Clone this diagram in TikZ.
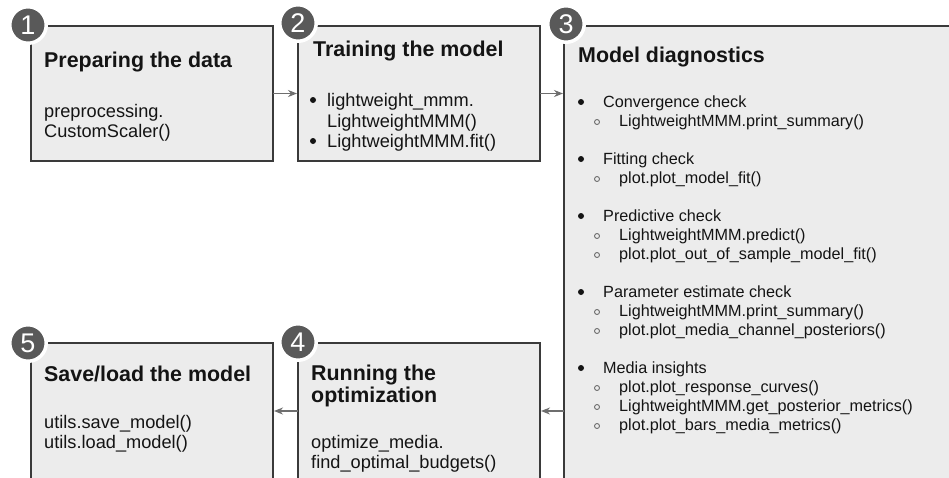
\documentclass[tikz,border=0pt]{standalone}
\usepackage{fontspec}
\setmainfont{Liberation Sans}
\usetikzlibrary{arrows.meta}
\definecolor{boxfill}{HTML}{ECECEC}
\definecolor{boxline}{HTML}{3A3A3A}
\definecolor{badgefill}{HTML}{595959}
\definecolor{arrowc}{HTML}{6E6E6E}
\definecolor{txt}{HTML}{141414}
\begin{document}
\begin{tikzpicture}[x=1pt,y=-1pt,
  box/.style={draw=boxline, fill=boxfill, line width=1.8pt, anchor=north west, inner sep=0, outer sep=0},
  badge/.style={circle, fill=badgefill, draw=white, line width=3.5pt, minimum size=36.5pt, inner sep=0, text=white, font=\fontsize{27}{27}\selectfont},
  title/.style={anchor=base west, inner sep=0, text=txt, font=\fontsize{21.4}{24}\selectfont\bfseries},
  body/.style={anchor=base west, inner sep=0, text=txt, font=\fontsize{18.2}{20}\selectfont},
  item/.style={anchor=base west, inner sep=0, text=txt, font=\fontsize{16.2}{19}\selectfont},
  flow/.style={draw=arrowc, line width=1.4pt, shorten >=1pt, -{Stealth[length=9pt,width=7pt]}},
  dot/.style={circle, fill=txt, inner sep=0, minimum size=6pt},
  ring/.style={circle, draw=arrowc, line width=0.9pt, inner sep=0, minimum size=5pt},
]
\useasboundingbox (0,0) rectangle (949,477);
\clip (0,0) rectangle (949,477);
\fill[white] (0,0) rectangle (949,477);

% boxes
\node[box, minimum width=242pt, minimum height=135pt] (b1) at (31,26) {};
\node[box, minimum width=242pt, minimum height=135pt] (b2) at (298,26) {};
\node[box, minimum width=420pt, minimum height=470pt] (b3) at (564,26) {};
\node[box, minimum width=242pt, minimum height=136pt] (b4) at (298,343) {};
\node[box, minimum width=242pt, minimum height=136pt] (b5) at (31,343) {};

% badges
\node[badge] (c1) at (28,25) {1};
\node[badge] (c2) at (298,23) {2};
\node[badge] (c3) at (566,24) {3};
\node[badge] (c4) at (298,342) {4};
\node[badge] (c5) at (28,343) {5};

% connectors
\draw[flow] (b1.east) -- (b2.west);
\draw[flow] (b2.east) -- (b2.east -| b3.west);
\draw[flow] (b3.west |- b4.east) -- (b4.east);
\draw[flow] (b4.west) -- (b5.east);

% box 1
\node[title] (t1) at (44,67) {Preparing the data};
\node[body] (p1a) at (44,117) {preprocessing.};
\node[body] (p1b) at (44,137) {CustomScaler()};

% box 2
\node[title] (t2) at (313,56) {Training the model};
\node[dot] (d2a) at (313,100) {};
\node[body] (p2a) at (327,106) {lightweight\_mmm.};
\node[body] (p2b) at (327,127) {LightweightMMM()};
\node[dot] (d2b) at (313,141) {};
\node[body] (p2c) at (327,147) {LightweightMMM.fit()};

% box 3
\node[title] (t3) at (578,62) {Model diagnostics};
\node[dot] (d3a) at (581,102) {};
\node[item] (h3a) at (603,107.5) {Convergence check};
\node[ring] (r3a) at (597,122) {};
\node[item] (s3a) at (619,126.5) {LightweightMMM.print\_summary()};
\node[dot] (d3b) at (581,159) {};
\node[item] (h3b) at (603,164.5) {Fitting check};
\node[ring] (r3b) at (597,179) {};
\node[item] (s3b) at (619,183.5) {plot.plot\_model\_fit()};
\node[dot] (d3c) at (581,216) {};
\node[item] (h3c) at (603,221.5) {Predictive check};
\node[ring] (r3c) at (597,236) {};
\node[item] (s3c) at (619,240.5) {LightweightMMM.predict()};
\node[ring] (r3d) at (597,255) {};
\node[item] (s3d) at (619,259.5) {plot.plot\_out\_of\_sample\_model\_fit()};
\node[dot] (d3d) at (581,292) {};
\node[item] (h3d) at (603,297.5) {Parameter estimate check};
\node[ring] (r3e) at (597,312) {};
\node[item] (s3e) at (619,316.5) {LightweightMMM.print\_summary()};
\node[ring] (r3f) at (597,331) {};
\node[item] (s3f) at (619,335.5) {plot.plot\_media\_channel\_posteriors()};
\node[dot] (d3e) at (581,368) {};
\node[item] (h3e) at (603,373.5) {Media insights};
\node[ring] (r3g) at (597,388) {};
\node[item] (s3g) at (619,392.5) {plot.plot\_response\_curves()};
\node[ring] (r3h) at (597,407) {};
\node[item] (s3h) at (619,411.5) {LightweightMMM.get\_posterior\_metrics()};
\node[ring] (r3i) at (597,426) {};
\node[item] (s3i) at (619,430.5) {plot.plot\_bars\_media\_metrics()};

% box 4
\node[title] (t4a) at (311,380) {Running the};
\node[title] (t4b) at (311,402) {optimization};
\node[body] (p4a) at (311,448) {optimize\_media.};
\node[body] (p4b) at (311,468) {find\_optimal\_budgets()};

% box 5
\node[title] (t5) at (44,381) {Save/load the model};
\node[body] (p5a) at (44,428) {utils.save\_model()};
\node[body] (p5b) at (44,448) {utils.load\_model()};
\end{tikzpicture}
\end{document}
